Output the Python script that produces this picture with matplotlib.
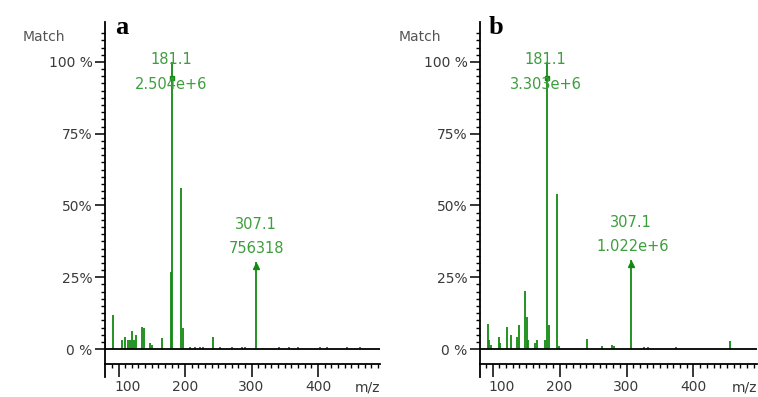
import numpy as np
import matplotlib
matplotlib.use('Agg')
import matplotlib.pyplot as plt
from matplotlib.transforms import ScaledTranslation

# m/z and relative intensity (%) of the peaks, panel a
mz_a = [80, 91, 114, 117, 106, 110, 121, 124, 127, 136, 139, 148, 151, 166,
        178.5, 181.1, 193.5, 196.5, 242.5, 307.1,
        207, 215, 222, 227, 253, 270, 285, 290, 342, 357, 370, 403, 413, 443, 463]
int_a = [4, 12, 3, 3, 3, 4.3, 6.3, 3, 5, 7.7, 7.2, 2.2, 1.5, 3.8,
         27, 100, 56, 7.3, 4.3, 30.2,
         0.6, 0.6, 0.6, 0.6, 0.6, 0.6, 0.6, 0.6, 0.6, 0.6, 0.6, 0.6, 0.6, 0.6, 0.6]

# panel b
mz_b = [93, 95, 98, 110, 111, 122, 128, 137, 140, 149, 151, 153, 164, 167,
        179, 181.1, 185, 196.6, 199.5, 240.5, 264, 279, 281, 307.1,
        326, 332, 374, 454]
int_b = [8.7, 3, 1.5, 4.3, 2, 7.7, 5, 4.3, 8.3, 20.2, 11.2, 3, 2, 3,
         3, 100, 8.3, 54, 1, 3.5, 1, 1.4, 1, 30.9,
         0.8, 0.8, 0.8, 2.9]

labels = ['a', 'b']
base_peak = 181.1
base_text = ['2.504e+6', '3.303e+6']
second_peak = 307.1
second_text = ['756318', '1.022e+6']
y_ticks = [0, 25, 50, 75, 100]
y_labels = ['0 %', '25%', '50%', '75%', '100 %']
x_ticks = [100, 200, 300, 400]
x_labels = ['100', '200', '300', '400']

W, H = 758, 397
fig = plt.figure(figsize=(W / 100, H / 100), dpi=100)

line_col = '#128a12'
text_col = '#3d9e3d'
axis_txt = '#3a3a3a'

# axes boxes in pixels: left, right, top, bottom
boxes = [(105, 380, 22, 364), (480, 757, 22, 364)]
xlims = [(79.7, 493.2), (81.3, 494.8)]
datas = [(mz_a, int_a), (mz_b, int_b)]
match_x = [44, 420]
letter_x = [115, 489]

for i in range(2):
    l, r, t, b = boxes[i]
    ax = fig.add_axes([l / W, 1 - b / H, (r - l) / W, (b - t) / H])
    mz, inten = datas[i]
    ax.vlines(mz, 0, inten, color=line_col, lw=1.3)
    ax.axhline(0, color='black', lw=1.3, zorder=3)
    ax.set_xlim(*xlims[i])
    ax.set_ylim(-5.2, 113.9)

    for s in ['top', 'right']:
        ax.spines[s].set_visible(False)
    ax.spines['left'].set_linewidth(1.3)
    ax.spines['bottom'].set_linewidth(1.3)
    # left spine continues a bit below the ruler
    ax.plot([0, 0], [0, -0.038], transform=ax.transAxes, color='black', lw=1.3, clip_on=False)

    ax.set_yticks(y_ticks)
    ax.set_yticklabels(y_labels)
    ax.set_yticks(np.arange(0, 112, 2.5), minor=True)
    ax.set_xticks(x_ticks)
    ax.set_xticklabels(x_labels)
    ax.set_xticks(np.arange(90, 491, 10), minor=True)
    ax.tick_params(axis='y', which='major', direction='out', length=7, width=1.1,
                   labelsize=10, labelcolor=axis_txt, pad=2)
    ax.tick_params(axis='y', which='minor', direction='out', length=3, width=1.0)
    ax.tick_params(axis='x', which='major', direction='out', length=9.4, width=1.1,
                   labelsize=10, labelcolor=axis_txt, pad=2)
    ax.tick_params(axis='x', which='minor', direction='out', length=3, width=1.0)
    # first x label sits right of its tick
    first = ax.get_xticklabels()[0]
    first.set_transform(first.get_transform() + ScaledTranslation(0.09, 0, fig.dpi_scale_trans))

    ax.text(1.0, -0.07, 'm/z', transform=ax.transAxes, ha='right', va='center',
            fontsize=10, color=axis_txt)

    # peak annotations
    ax.plot([base_peak], [94.4], marker='s', ms=3, color=line_col)
    ax.text(base_peak - 2, 100.7, '181.1', ha='center', va='center', fontsize=10.5, color=text_col)
    ax.text(base_peak - 2, 92, base_text[i], ha='center', va='center', fontsize=10.5, color=text_col)
    top2 = inten[mz.index(second_peak)]
    ax.plot([second_peak], [top2 - 1.2], marker='^', ms=5, color=line_col)
    ax.text(second_peak, top2 + 13.3, '307.1', ha='center', va='center', fontsize=10.5, color=text_col)
    ax.text(second_peak + 2 * i, top2 + 4.8, second_text[i], ha='center', va='center', fontsize=10.5, color=text_col)

    fig.text(match_x[i] / W, 1 - 37 / H, 'Match', ha='center', va='center',
             fontsize=10, color='#555555')
    fig.text(letter_x[i] / W, 1 - 27 / H, labels[i], ha='left', va='center',
             fontsize=19, fontweight='bold', family='Liberation Serif', color='black')

fig.savefig('out.png', dpi=100)
